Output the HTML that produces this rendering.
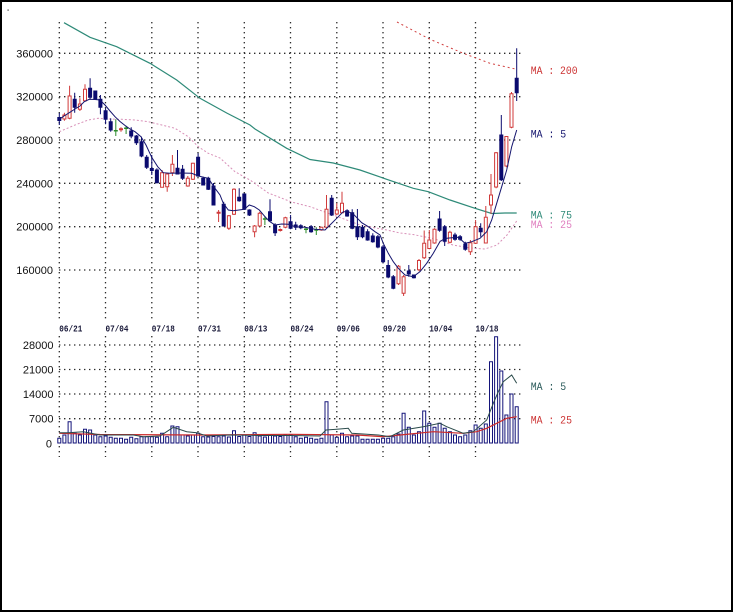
<!DOCTYPE html>
<html><head><meta charset="utf-8"><style>
html,body{margin:0;padding:0;background:#fff;}
svg{display:block;}
</style></head><body>
<svg width="735" height="614" viewBox="0 0 735 614" xmlns="http://www.w3.org/2000/svg">
<rect x="0" y="0" width="735" height="614" fill="#fff"/>
<rect x="1" y="1" width="731" height="610" fill="none" stroke="#000" stroke-width="2"/>
<rect x="7.5" y="9.5" width="1.2" height="1.2" fill="#333"/>
<path fill="none" stroke="#2a2a2a" stroke-width="1.3" stroke-dasharray="1.4 3.6" d="M59 53.3H524M59 96.7H524M59 140H524M59 183.3H524M59 226.7H524M59 270H524M59 345H524M59 369.5H524M59 394H524M59 418.7H524M59.3 22V320M59.3 336V457M105.5 22V320M105.5 336V457M151.8 22V320M151.8 336V457M198 22V320M198 336V457M244.3 22V320M244.3 336V457M290.5 22V320M290.5 336V457M336.8 22V320M336.8 336V457M383 22V320M383 336V457M429.3 22V320M429.3 336V457M475.5 22V320M475.5 336V457"/>
<g font-family="Liberation Sans, sans-serif" font-size="11" fill="#111" text-anchor="end">
<text x="53" y="57.3">360000</text>
<text x="53" y="100.7">320000</text>
<text x="53" y="144">280000</text>
<text x="53" y="187.3">240000</text>
<text x="53" y="230.7">200000</text>
<text x="53" y="274">160000</text>
<text x="53.5" y="349">28000</text>
<text x="53.5" y="373.5">21000</text>
<text x="53.5" y="398">14000</text>
<text x="53.5" y="422.7">7000</text>
<text x="52" y="447.3">0</text>
</g>
<g font-family="Liberation Mono, monospace" font-size="9" font-weight="bold" fill="#1a1a3a" textLength="23" lengthAdjust="spacingAndGlyphs">
<text x="59.3" y="331.5" textLength="23" lengthAdjust="spacingAndGlyphs">06/21</text>
<text x="105.5" y="331.5" textLength="23" lengthAdjust="spacingAndGlyphs">07/04</text>
<text x="151.8" y="331.5" textLength="23" lengthAdjust="spacingAndGlyphs">07/18</text>
<text x="198" y="331.5" textLength="23" lengthAdjust="spacingAndGlyphs">07/31</text>
<text x="244.3" y="331.5" textLength="23" lengthAdjust="spacingAndGlyphs">08/13</text>
<text x="290.5" y="331.5" textLength="23" lengthAdjust="spacingAndGlyphs">08/24</text>
<text x="336.8" y="331.5" textLength="23" lengthAdjust="spacingAndGlyphs">09/06</text>
<text x="383" y="331.5" textLength="23" lengthAdjust="spacingAndGlyphs">09/20</text>
<text x="429.3" y="331.5" textLength="23" lengthAdjust="spacingAndGlyphs">10/04</text>
<text x="475.5" y="331.5" textLength="23" lengthAdjust="spacingAndGlyphs">10/18</text>
</g>
<polyline fill="none" stroke="#d04040" stroke-width="1" stroke-dasharray="2 3" points="397,22 430,39.3 463.3,53.3 490,63.3 516.7,69.3"/>
<polyline fill="none" stroke="#2e8a78" stroke-width="1.2" points="64,22.7 90,37.3 116.7,46.7 150,63.3 176.7,80 200,98.3 226.7,113 250,125 255,129 286.7,148.3 310,159.5 333.3,163 360,170 386.7,179.3 413.3,188.3 428.3,191.7 450,200 475,208.3 491.7,213.5 505,213 516.7,213"/>
<polyline fill="none" stroke="#d890b8" stroke-width="1" stroke-dasharray="2 2" points="59.3,131.7 75,125 88.3,120 98.3,118.3 108.3,119 121.7,119.3 135,120 148.3,121.7 161.7,125 175,128.3 188.3,136.7 198.3,146.7 208.3,153.3 220,158 235,171.7 250,180 268.3,193 291.7,202 310,206.7 333.3,215 360,225 386.7,230 400,233 413,234.5 433,238.5 453,245 470,248 485,249 497,245 507,235 516.7,221"/>
<path fill="none" stroke="#0a0a6e" stroke-width="1" d="M59.3 113V125M74.7 92.7V112.7M90.1 78.3V99.3M95.3 91V100M100.4 95V114.3M105.6 108.3V124.3M110.7 118.3V131.7M131.2 127.3V138.3M136.4 135V145M141.5 136.7V157.3M146.7 155V169M151.8 155V175M156.9 168.3V183.3M177.5 150V174M182.6 165V180M198.1 153.3V176.7M203.2 176.7V185M208.3 176.7V190M213.5 183V205M223.7 201.7V226.5M239.2 188.3V201.7M244.3 193.3V210M249.4 209.3V216M270 199.3V220.7M275.1 223.3V236M290.6 215V229.3M295.7 221.7V230M300.8 224.3V229.3M311.1 225V232.7M331.7 195V216M347.1 209.3V216.7M352.2 209.3V229.3M357.4 209V240M362.5 225V238.3M367.6 229.3V240.7M372.8 233.3V242.7M377.9 235V248.3M383.1 245V263.3M388.2 260V278.3M393.3 275V289.3M408.8 265V276.7M413.9 274.5V278.5M439.6 211V231.7M444.7 225V246M455 232.7V240.7M460.1 235V240.7M465.3 241.7V250.7M480.7 223.3V236.7M501.3 115V181M516.7 48.3V101"/>
<path fill="#0a0a6e" stroke="#0a0a6e" stroke-width="1" d="M57.8 117.5h3v3h-3zM73.2 99.3h3v8h-3zM88.6 88.3h3v9h-3zM93.8 91h3v8.3h-3zM98.9 99.3h3v8h-3zM104.1 110.7h3v8.6h-3zM109.2 121.7h3v8.3h-3zM129.7 131h3v5h-3zM134.9 136h3v6.7h-3zM140 141.7h3v14.3h-3zM145.2 157.3h3v10h-3zM150.3 168.5h3v2h-3zM155.4 170h3v12.7h-3zM176 168.3h3v5.7h-3zM181.1 169.3h3v9h-3zM196.6 157.3h3v18.7h-3zM201.7 178.3h3v6.7h-3zM206.8 178.3h3v11h-3zM212 186h3v19h-3zM222.2 204.3h3v21.7h-3zM237.7 197.3h3v3.4h-3zM242.8 194h3v15.3h-3zM247.9 210h3v5h-3zM268.5 211.7h3v9h-3zM273.6 225h3v7.7h-3zM289.1 221.7h3v6.6h-3zM294.2 225h3v2.3h-3zM299.3 225.7h3v2h-3zM309.6 226.7h3v5h-3zM330.2 198.3h3v16.7h-3zM345.6 210.7h3v5.3h-3zM350.7 212.7h3v15.6h-3zM355.9 226.7h3v10h-3zM361 227.3h3v9.4h-3zM366.1 231.7h3v8.3h-3zM371.3 236h3v5.7h-3zM376.4 236.7h3v10.3h-3zM381.6 247h3v14.7h-3zM386.7 265.5h3v11.5h-3zM391.8 276.7h3v11.6h-3zM407.3 271h3v3h-3zM412.4 275h3v2.7h-3zM438.1 219h3v11.3h-3zM443.2 226.7h3v14.5h-3zM453.5 235h3v4.3h-3zM458.6 236.7h3v2.6h-3zM463.8 244h3v5.3h-3zM479.2 228.3h3v3.4h-3zM499.8 135h3v44.7h-3zM515.2 78.3h3v14.4h-3z"/>
<path fill="none" stroke="#d03a3a" stroke-width="1" d="M64.4 112.7V120.7M69.6 85.7V119.3M79.9 98.3V111M85 84.3V101.7M162.1 170V187.3M167.2 173.3V191.7M172.4 155V176M187.8 176V186.7M192.9 162.7V180M228.9 215V230M234 188.3V215M254.6 225V237.3M259.7 211.7V226.7M285.4 216.7V228.3M321.4 226.7V230.7M326.5 195V228.3M336.8 203.3V215M342 191.7V213.3M398.5 265V285M403.6 275V296M419 259V271.3M424.2 230.5V259M429.3 230V249.3M434.5 228.3V243.7M449.9 230.7V243.3M470.4 240V255M475.6 220V244M485.8 206V243.3M491 174V214M496.1 152V188.3M506.4 136V167.3M511.5 92V128.3M121 127.3V131.7M218.6 210V222M280.3 228.5V231.5"/>
<path fill="#fff" stroke="#d03a3a" stroke-width="1" d="M62.9 115h3v4h-3zM68.1 96h3v22.3h-3zM78.4 104h3v5.3h-3zM83.5 89.3h3v11.4h-3zM160.6 172.7h3v14.6h-3zM165.7 174h3v12.7h-3zM170.9 164.3h3v8.4h-3zM186.3 178.3h3v7.7h-3zM191.4 163.3h3v16h-3zM227.4 215.7h3v12.6h-3zM232.5 189.3h3v25h-3zM253.1 226h3v5.7h-3zM258.2 213.3h3v12.7h-3zM283.9 217.7h3v9.6h-3zM319.9 227.3h3v2.7h-3zM325 209.3h3v18h-3zM335.3 210h3v4h-3zM340.5 203.3h3v9.4h-3zM397 266.3h3v17.4h-3zM402.1 276.7h3v16.6h-3zM417.5 260.5h3v9.2h-3zM422.7 243.3h3v14.5h-3zM427.8 240h3v8.5h-3zM433 229.3h3v13.7h-3zM448.4 232.2h3v10h-3zM468.9 242.7h3v9h-3zM474.1 226.7h3v16.6h-3zM484.3 217.3h3v25.7h-3zM489.5 195h3v10h-3zM494.6 152.7h3v34.3h-3zM504.9 136.5h3v29.5h-3zM510 93.7h3v33.6h-3z"/>
<path fill="none" stroke="#d03a3a" stroke-width="2" d="M119 129.3h4M216.6 212.7h4M278.3 230h4"/>
<path fill="none" stroke="#2a8a2a" stroke-width="1" d="M115.8 119.3V136M126.1 125.7V134M264.9 216V225M306 227.3V233.3M316.3 227.3V235"/>
<path fill="none" stroke="#2a8a2a" stroke-width="1.5" d="M113.8 130.7h4M124.1 128.3h4M262.9 219h4M304 229.3h4M314.3 230h4"/>
<polyline fill="none" stroke="#14146e" stroke-width="1" points="59.3,119.3 64,116 69.3,112.7 75,109 80,106 84.3,101.7 89.3,99.3 95,99.5 100,100 105,105 110,111 115,116.7 120,121.5 125.7,126 130,129 135,131.7 141,136.7 146,145 151.7,157.3 157.7,166.7 163.3,172.7 170,173.3 180,173 191.7,173.3 198.3,176 208.3,178.3 215,188.3 220,195 223.3,203.3 228.3,210 233.3,210.7 239,210 244.3,209.3 249.3,205 254.3,206.7 259.3,210 265,216.7 270,221.7 275,225 281.7,224 288.3,224.3 295,226.7 305,227.3 315,229.3 325,230 330,225 336.7,218.3 343.3,211.7 348.3,211.7 353.3,214 361.7,222.7 368.3,226.7 375,231.7 380,235 383.3,243.3 388.3,253.3 393.3,261.7 398.3,268.3 405,275 413.3,276.7 420,271.7 426.7,263.3 433.3,253.3 440,241.5 445,238.5 449.3,238 458.3,237.3 465,243.3 471.7,241.7 480,238.3 486.7,231.7 491.7,220 496.7,203.3 501.7,186.7 506.7,170 511.7,146.7 516.7,130"/>
<path fill="#fff" stroke="#14147a" stroke-width="1" d="M57.8 438.3h3v4.7h-3zM62.9 435h3v8h-3zM68.1 421.7h3v21.3h-3zM73.2 433.3h3v9.7h-3zM78.4 435h3v8h-3zM83.5 429.3h3v13.7h-3zM88.6 430h3v13h-3zM93.8 435h3v8h-3zM98.9 436.7h3v6.3h-3zM104.1 436h3v7h-3zM109.2 437.3h3v5.7h-3zM114.3 438.3h3v4.7h-3zM119.5 438.3h3v4.7h-3zM124.6 439.3h3v3.7h-3zM129.7 437.3h3v5.7h-3zM134.9 438.7h3v4.3h-3zM140 436.7h3v6.3h-3zM145.2 436.7h3v6.3h-3zM150.3 436.7h3v6.3h-3zM155.4 437.3h3v5.7h-3zM160.6 433.3h3v9.7h-3zM165.7 436.7h3v6.3h-3zM170.9 426h3v17h-3zM176 426.7h3v16.3h-3zM181.1 435h3v8h-3zM186.3 436h3v7h-3zM191.4 435h3v8h-3zM196.6 433.3h3v9.7h-3zM201.7 436.7h3v6.3h-3zM206.8 437h3v6h-3zM212 436.5h3v6.5h-3zM217.1 436.7h3v6.3h-3zM222.2 436h3v7h-3zM227.4 437h3v6h-3zM232.5 430.7h3v12.3h-3zM237.7 436.5h3v6.5h-3zM242.8 435h3v8h-3zM247.9 436.5h3v6.5h-3zM253.1 432.7h3v10.3h-3zM258.2 436h3v7h-3zM263.4 437h3v6h-3zM268.5 435h3v8h-3zM273.6 436h3v7h-3zM278.8 436.5h3v6.5h-3zM283.9 435h3v8h-3zM289.1 435h3v8h-3zM294.2 436.7h3v6.3h-3zM299.3 438.3h3v4.7h-3zM304.5 437.3h3v5.7h-3zM309.6 438.3h3v4.7h-3zM314.8 439.3h3v3.7h-3zM319.9 438.3h3v4.7h-3zM325 401.7h3v41.3h-3zM330.2 435h3v8h-3zM335.3 437.3h3v5.7h-3zM340.5 433.3h3v9.7h-3zM345.6 436.7h3v6.3h-3zM350.7 436h3v7h-3zM355.9 436h3v7h-3zM361 439.3h3v3.7h-3zM366.1 439.3h3v3.7h-3zM371.3 439.3h3v3.7h-3zM376.4 439.3h3v3.7h-3zM381.6 438.3h3v4.7h-3zM386.7 438.3h3v4.7h-3zM391.8 436.7h3v6.3h-3zM397 434h3v9h-3zM402.1 413.3h3v29.7h-3zM407.3 427.3h3v15.7h-3zM412.4 435h3v8h-3zM417.5 431.7h3v11.3h-3zM422.7 411h3v32h-3zM427.8 423.3h3v19.7h-3zM433 427.3h3v15.7h-3zM438.1 423.3h3v19.7h-3zM443.2 428.3h3v14.7h-3zM448.4 431.7h3v11.3h-3zM453.5 435h3v8h-3zM458.6 436.7h3v6.3h-3zM463.8 435h3v8h-3zM468.9 430.7h3v12.3h-3zM474.1 425h3v18h-3zM479.2 428.3h3v14.7h-3zM484.3 424h3v19h-3zM489.5 361.7h3v81.3h-3zM494.6 336.7h3v106.3h-3zM499.8 371h3v72h-3zM504.9 415h3v28h-3zM510 394h3v49h-3zM515.2 406.7h3v36.3h-3z"/>
<polyline fill="none" stroke="#cc2a2a" stroke-width="1.2" points="59.3,433.3 100,434.5 200,435 290,434.3 356.7,435 383.3,436.7 400,435 433.3,431.7 463.3,433.3 476.7,431.7 486.7,428.3 496.7,423.3 506.7,418.3 516.7,416.7"/>
<polyline fill="none" stroke="#2a4a4a" stroke-width="1" points="59.3,432.7 68.3,432.7 83.3,431.7 100,435 133.3,435 143.3,436.7 160,436 173.3,427.3 186.7,431.7 196.7,432.7 206.7,436 230,435 260,435.5 290,435.5 320,436 326,430 336.7,429.3 348.3,428.3 351.7,433.3 378.3,435 390,436.7 403.3,430 423.3,426.7 440,423.3 446.7,426.7 463.3,433.3 473.3,431.7 486.7,420 493.3,403.3 498.3,391.7 503.3,381.7 511.7,375 516.7,383.3"/>
<g font-family="Liberation Mono, monospace" font-size="11">
<text x="530.7" y="74" fill="#cc3333" textLength="47" lengthAdjust="spacingAndGlyphs">MA : 200</text>
<text x="530.7" y="137.5" fill="#14146e" textLength="35.5" lengthAdjust="spacingAndGlyphs">MA : 5</text>
<text x="530.7" y="218.5" fill="#2e8a78" textLength="41.3" lengthAdjust="spacingAndGlyphs">MA : 75</text>
<text x="530.7" y="228" fill="#e080c0" textLength="41.3" lengthAdjust="spacingAndGlyphs">MA : 25</text>
<text x="530.7" y="390" fill="#2a5a5a" textLength="35.5" lengthAdjust="spacingAndGlyphs">MA : 5</text>
<text x="530.7" y="423.3" fill="#cc3333" textLength="41.3" lengthAdjust="spacingAndGlyphs">MA : 25</text>
</g>
</svg>
</body></html>
